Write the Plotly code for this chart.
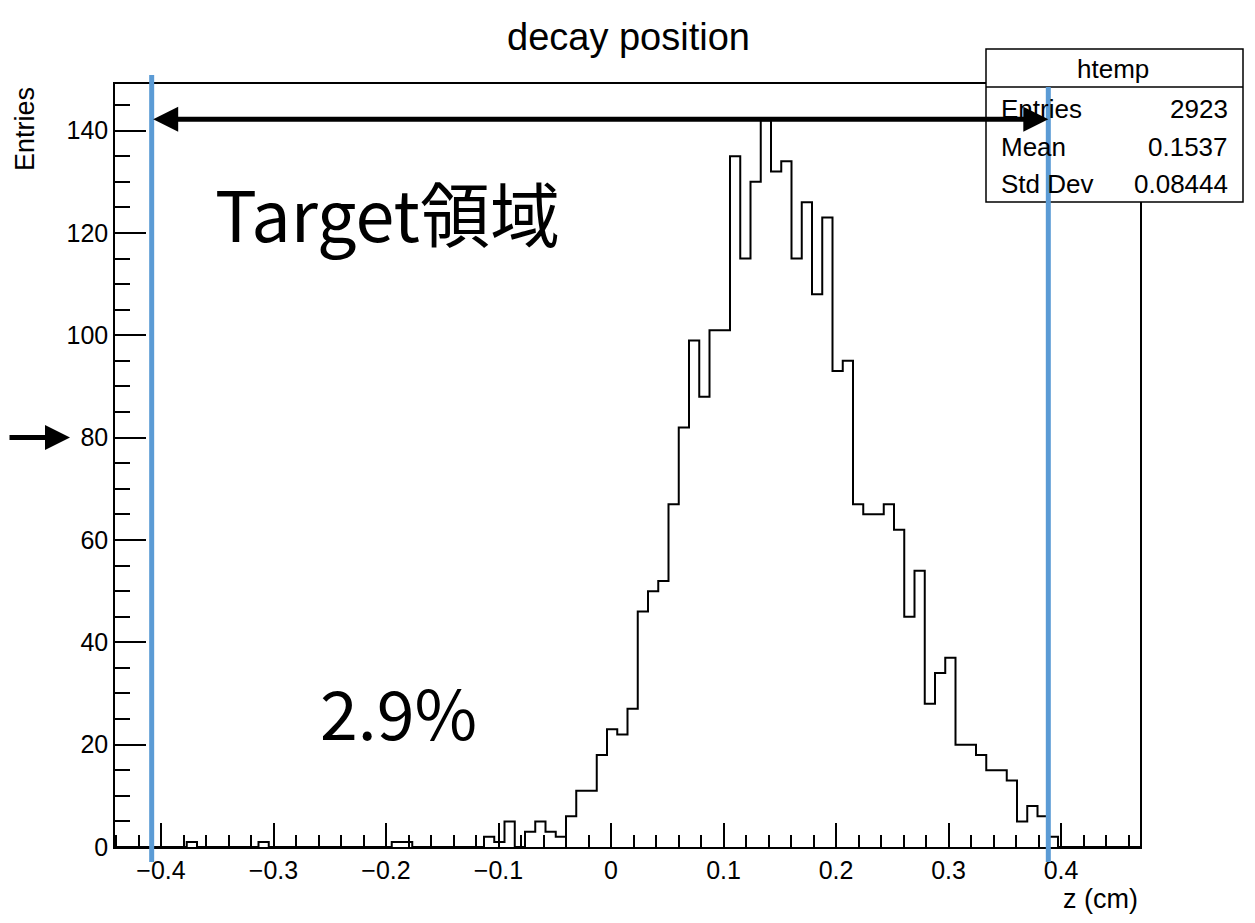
import numpy as np
import plotly.graph_objects as go

# ---------------- data ----------------
title_text = "decay position"
x_title = "z (cm)"
y_title = "Entries"
hist_name = "htemp"

x_min = -0.4409          # lower edge of first bin
x_max = 0.4702           # upper edge of last bin
n_bins = 100

counts = [
    0, 0, 0, 0, 0, 0, 0, 1, 0, 0,
    0, 0, 0, 0, 1, 0, 0, 0, 0, 0,
    0, 0, 0, 0, 0, 0, 0, 1, 1, 0,
    0, 0, 0, 0, 0, 0, 2, 1, 5, 0,
    3, 5, 3, 2, 6, 11, 11, 18, 23, 22,
    27, 46, 50, 52, 67, 82, 99, 88, 101, 101,
    135, 115, 130, 142, 132, 134, 115, 126, 108, 123,
    93, 95, 67, 65, 65, 67, 62, 45, 54, 28,
    34, 37, 20, 20, 18, 15, 15, 13, 5, 8,
    6, 2, 0, 0, 0, 0, 0, 0, 0, 0,
]

stat_labels = ["Entries", "Mean", "Std Dev"]
stat_values = ["2923", "0.1537", "0.08444"]

target_z_min = -0.4083   # blue marker lines (target region)
target_z_max = 0.3887
arrow_level = 142.2      # height of the double arrow (Entries)
pointer_level = 80       # left arrow pointing at y tick 80
region_label = "Target領域"
fraction_label = "2.9%"

y_max = 149.1

# ---------------- layout helpers ----------------
# The page body has an 8px default margin; the figure is sized so the plot
# frame lands at page pixels (115..1140, 84..847).
OFF = 8
W, H = 1255 - OFF, 923 - OFF
PL, PR, PT, PB = 115, 1140, 84, 847   # page pixels of the plot frame


def fx(px):
    return (px - PL) / (PR - PL)


def fy(py):
    return (PB - py) / (PB - PT)


edges = np.linspace(x_min, x_max, n_bins + 1)
step_y = list(counts) + [counts[-1]]

ROOT_FONT = "Liberation Sans, Arial, Helvetica, sans-serif"
JP_FONT = "Noto Sans CJK JP, Noto Sans, sans-serif"
BLUE = "#5B9BD5"

fig = go.Figure()
fig.add_trace(go.Scatter(
    x=edges, y=step_y, mode="lines", line_shape="hv",
    line=dict(color="black", width=2), hoverinfo="skip", showlegend=False,
))

axis_common = dict(
    showgrid=False, zeroline=False, showline=True, linecolor="black",
    linewidth=1.5, mirror=True, ticks="inside", tickcolor="black",
    tickwidth=1.5, tickfont=dict(family=ROOT_FONT, size=25, color="black"),
)
fig.update_xaxes(
    range=[x_min, x_max], tick0=0, dtick=0.1, ticklen=24,
    minor=dict(tick0=0, dtick=0.02, ticks="inside", ticklen=12,
               tickcolor="black", tickwidth=1.5),
    **axis_common,
)
fig.update_yaxes(
    range=[0, y_max], tick0=0, dtick=20, ticklen=31,
    minor=dict(tick0=0, dtick=5, ticks="inside", ticklen=15,
               tickcolor="black", tickwidth=1.5),
    **axis_common,
)

shapes = []
# stats box
shapes.append(dict(type="rect", xref="paper", yref="paper",
                   x0=fx(986), x1=fx(1243), y0=fy(202), y1=fy(49),
                   fillcolor="white", line=dict(color="black", width=1.5),
                   layer="above"))
shapes.append(dict(type="line", xref="paper", yref="paper",
                   x0=fx(986), x1=fx(1243), y0=fy(87), y1=fy(87),
                   line=dict(color="black", width=1.5), layer="above"))
# blue target lines
shapes.append(dict(type="line", xref="x", yref="paper",
                   x0=target_z_min, x1=target_z_min, y0=fy(862), y1=fy(75),
                   line=dict(color=BLUE, width=5), layer="above"))
shapes.append(dict(type="line", xref="x", yref="paper",
                   x0=target_z_max, x1=target_z_max, y0=fy(862), y1=fy(87),
                   line=dict(color=BLUE, width=5), layer="above"))

annotations = []
# title
annotations.append(dict(text=title_text, xref="paper", yref="paper",
                        x=fx(628), y=fy(37), showarrow=False,
                        xanchor="center", yanchor="middle",
                        font=dict(family=ROOT_FONT, size=38, color="black")))
# y title
annotations.append(dict(text=y_title, xref="paper", yref="paper",
                        x=fx(25), y=fy(129), showarrow=False, textangle=-90,
                        xanchor="center", yanchor="middle",
                        font=dict(family=ROOT_FONT, size=27, color="black")))
# x title
annotations.append(dict(text=x_title, xref="paper", yref="paper",
                        x=1.0, y=fy(899), showarrow=False,
                        xanchor="right", yanchor="middle",
                        font=dict(family=ROOT_FONT, size=27, color="black")))
# stats box text
annotations.append(dict(text=hist_name, xref="paper", yref="paper",
                        x=fx(1113), y=fy(69), showarrow=False,
                        xanchor="center", yanchor="middle",
                        font=dict(family=ROOT_FONT, size=26, color="black")))
row_y = [109, 147, 184]
for lab, val, ry in zip(stat_labels, stat_values, row_y):
    annotations.append(dict(text=lab, xref="paper", yref="paper",
                            x=fx(999), y=fy(ry), showarrow=False,
                            xanchor="left", yanchor="middle",
                            font=dict(family=ROOT_FONT, size=26, color="black")))
    annotations.append(dict(text=val, xref="paper", yref="paper",
                            x=fx(1230), y=fy(ry), showarrow=False,
                            xanchor="right", yanchor="middle",
                            font=dict(family=ROOT_FONT, size=26, color="black")))
# big labels
annotations.append(dict(text=region_label, xref="paper", yref="paper",
                        x=fx(387), y=fy(211), showarrow=False,
                        xanchor="center", yanchor="middle",
                        font=dict(family=JP_FONT, size=70, color="black")))
annotations.append(dict(text=fraction_label, xref="paper", yref="paper",
                        x=fx(398), y=fy(710), showarrow=False,
                        xanchor="center", yanchor="middle",
                        font=dict(family=JP_FONT, size=68, color="black")))
# double arrow
annotations.append(dict(text="", x=target_z_max, y=arrow_level, xref="x", yref="y",
                        ax=target_z_min, ay=arrow_level, axref="x", ayref="y",
                        showarrow=True, arrowhead=2, startarrowhead=2,
                        arrowside="end+start", arrowsize=1.0, startarrowsize=1.0,
                        arrowwidth=5, arrowcolor="black"))
# left pointer arrow
annotations.append(dict(text="", x=fx(70), y=pointer_level, xref="paper", yref="y",
                        ax=-85, ay=0, axref="pixel", ayref="pixel",
                        showarrow=True, arrowhead=2, arrowsize=1.0,
                        arrowwidth=5, arrowcolor="black"))

fig.update_layout(
    width=W, height=H,
    margin=dict(l=PL - OFF, r=(W + OFF) - PR, t=PT - OFF, b=(H + OFF) - PB, pad=0),
    paper_bgcolor="white", plot_bgcolor="white",
    showlegend=False, shapes=shapes, annotations=annotations,
)

fig.write_html("out.html")
